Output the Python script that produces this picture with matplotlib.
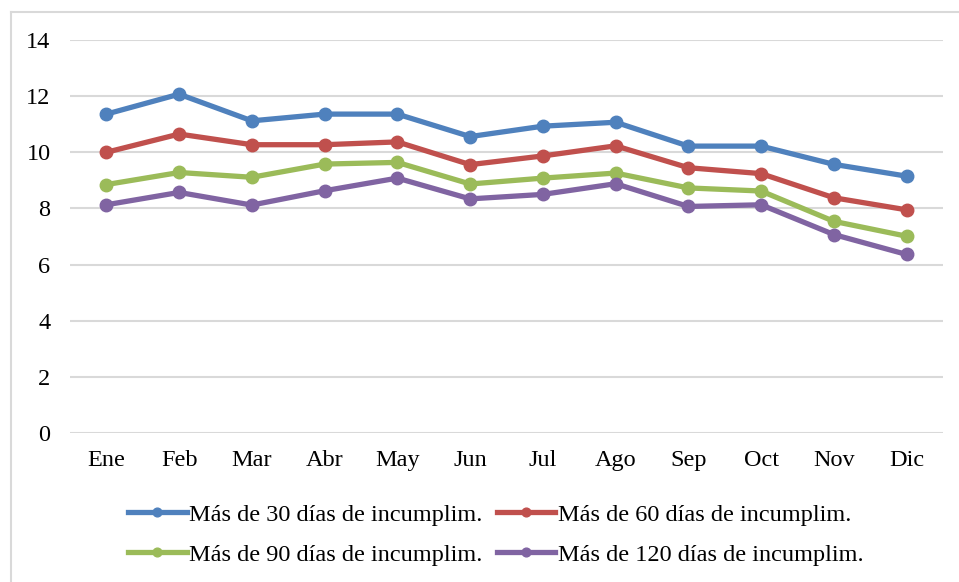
import matplotlib.pyplot as plt
from matplotlib.lines import Line2D

# monthly share of loans in default, by days past due
meses = ["Ene", "Feb", "Mar", "Abr", "May", "Jun",
         "Jul", "Ago", "Sep", "Oct", "Nov", "Dic"]
mas_30 = [11.36, 12.07, 11.12, 11.36, 11.36, 10.56, 10.93, 11.07, 10.22, 10.22, 9.57, 9.15]
mas_60 = [10.00, 10.65, 10.27, 10.27, 10.37, 9.56, 9.87, 10.23, 9.45, 9.24, 8.38, 7.95]
mas_90 = [8.85, 9.28, 9.11, 9.58, 9.64, 8.87, 9.08, 9.26, 8.73, 8.62, 7.54, 7.01]
mas_120 = [8.13, 8.57, 8.12, 8.63, 9.08, 8.34, 8.50, 8.88, 8.07, 8.13, 7.07, 6.36]

series = [
    ("Más de 30 días de incumplim.", mas_30, "#4F81BD"),
    ("Más de 60 días de incumplim.", mas_60, "#C0504D"),
    ("Más de 90 días de incumplim.", mas_90, "#9BBB59"),
    ("Más de 120 días de incumplim.", mas_120, "#8064A2"),
]

plt.rcParams['font.family'] = ['Liberation Serif', 'DejaVu Serif']
plt.rcParams['font.size'] = 17.5

fig = plt.figure(figsize=(9.59, 5.82), dpi=100)
ax = fig.add_axes([70 / 959, 1 - 433 / 582, 873 / 959, 393 / 582])

x = list(range(len(meses)))
handles = []
for label, vals, color in series:
    h, = ax.plot(x, vals, color=color, linewidth=3.8, marker="o", markersize=9,
                 label=label, clip_on=False, zorder=3)
    handles.append(h)

ax.set_xlim(-0.5, len(meses) - 0.5)
ax.set_ylim(0, 14)
ax.set_yticks(range(0, 15, 2))
ax.set_xticks(x)
ax.set_xticklabels(meses)
ax.tick_params(axis="both", length=0, colors="#000000")
ax.tick_params(axis="y", pad=14)
ax.tick_params(axis="x", pad=12)
ax.grid(axis="y", color="#D9D9D9", linewidth=1.5)
ax.set_axisbelow(True)
for s in ax.spines.values():
    s.set_visible(False)

# light frame around the chart area (only left and top edges are visible)
fig.add_artist(Line2D([11 / 959, 11 / 959], [0, 1 - 12 / 582],
                      transform=fig.transFigure, color="#D9D9D9", linewidth=1.5))
fig.add_artist(Line2D([11 / 959, 1], [1 - 12 / 582, 1 - 12 / 582],
                      transform=fig.transFigure, color="#D9D9D9", linewidth=1.5))

# legend fills row by row in the original, matplotlib fills by column
order = [0, 2, 1, 3]
fig.legend([handles[i] for i in order], [series[i][0] for i in order],
           loc="center", bbox_to_anchor=(0.517, 0.081), ncol=2, frameon=False,
           handlelength=2.4, handletextpad=0.1, columnspacing=0.6,
           labelspacing=0.75, markerscale=0.7)

fig.savefig("out.png", dpi=100)
